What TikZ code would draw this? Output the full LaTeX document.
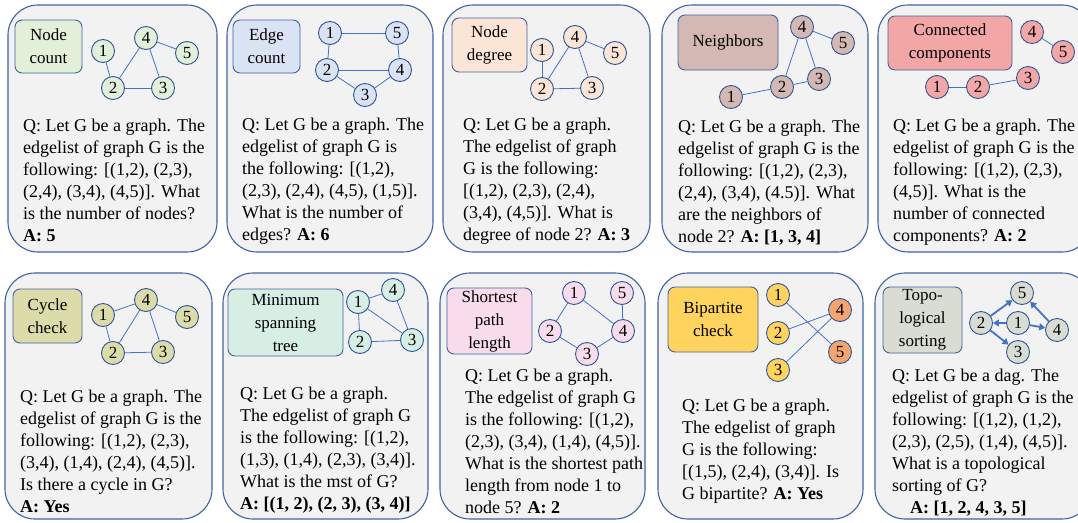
\documentclass[tikz,border=0pt]{standalone}
\usepackage{fontspec}
\setmainfont{Liberation Serif}
\definecolor{panelgray}{HTML}{F2F2F2}
\definecolor{panelblue}{HTML}{41639E}
\definecolor{nodeblue}{HTML}{2F5597}
\definecolor{edgeblue}{HTML}{4472C4}
\definecolor{ncgreen}{HTML}{E2F0D9}
\definecolor{ecblue}{HTML}{DAE3F3}
\definecolor{ndpeach}{HTML}{FBE5D6}
\definecolor{nbrose}{HTML}{D4B8B4}
\definecolor{ccpink}{HTML}{F2A6A6}
\definecolor{cyolive}{HTML}{DCDCAA}
\definecolor{mstmint}{HTML}{D6EEE4}
\definecolor{sppink}{HTML}{F9DCEB}
\definecolor{bpgold}{HTML}{FFD45E}
\definecolor{bporange}{HTML}{F4A46E}
\definecolor{topogray}{HTML}{D9DCD3}
\usetikzlibrary{arrows.meta}
\tikzset{
	panel/.style={
			draw=panelblue,
			fill=panelgray,
			line width=1.1pt,
			rounded corners=30pt
		},
	tagbox/.style={
			draw=panelblue,
			line width=0.9pt,
			rounded corners=7pt,
			align=center,
			inner sep=0pt,
			font=\fontsize{17}{23}\selectfont
		},
	vtx/.style={
			circle,
			draw=nodeblue,
			line width=0.9pt,
			minimum size=23pt,
			inner sep=0pt,
			font=\fontsize{17}{17}\selectfont
		},
	qtext/.style={
			anchor=base west,
			align=left,
			inner sep=0pt,
			font=\fontsize{18}{22}\selectfont
		},
	link/.style={
			draw=edgeblue,
			line width=0.8pt
		},
	dlink/.style={
			draw=edgeblue,
			line width=1.8pt,
			-{Triangle[length=6pt,width=7pt]}
		}
}

\begin{document}
\begin{tikzpicture}[x=1pt, y=-1pt]
\useasboundingbox (0,0) rectangle (1078,522);
\clip (0,0) rectangle (1078,522);

\draw[panel] (8,5) rectangle (217,252);
\draw[panel] (227,5) rectangle (433,252);
\draw[panel] (443,5) rectangle (650,252);
\draw[panel] (662,5) rectangle (868,252);
\draw[panel] (878,5) rectangle (1092,252);
\draw[panel] (5,273) rectangle (212,519);
\draw[panel] (223,273) rectangle (428,519);
\draw[panel] (440,273) rectangle (645,519);
\draw[panel] (658,273) rectangle (863,519);
\draw[panel] (875,273) rectangle (1092,519);

% node count
\node[tagbox, fill=ncgreen, minimum width=67pt, minimum height=53pt] (p1tag) at (48.5,46.5) {Node\\count};
\node[vtx, fill=ncgreen] (p1n1) at (103,51) {1};
\node[vtx, fill=ncgreen] (p1n2) at (113,88) {2};
\node[vtx, fill=ncgreen] (p1n3) at (163,88) {3};
\node[vtx, fill=ncgreen] (p1n4) at (146,38) {4};
\node[vtx, fill=ncgreen] (p1n5) at (187,53) {5};
\draw[link] (p1n1) -- (p1n2);
\draw[link] (p1n2) -- (p1n3);
\draw[link] (p1n2) -- (p1n4);
\draw[link] (p1n3) -- (p1n4);
\draw[link] (p1n4) -- (p1n5);
\node[qtext] (p1q) at (23,241) {Q: Let G be a graph. The\\edgelist of graph G is the\\following: [(1,2), (2,3),\\(2,4), (3,4), (4,5)]. What\\is the number of nodes?\\\textbf{A: 5}};

% edge count
\node[tagbox, fill=ecblue, minimum width=67pt, minimum height=53pt] (p2tag) at (266.5,46.5) {Edge\\count};
\node[vtx, fill=ecblue] (p2n1) at (330,33) {1};
\node[vtx, fill=ecblue] (p2n2) at (327,70) {2};
\node[vtx, fill=ecblue] (p2n3) at (365,95) {3};
\node[vtx, fill=ecblue] (p2n4) at (400,70) {4};
\node[vtx, fill=ecblue] (p2n5) at (397,33) {5};
\draw[link] (p2n1) -- (p2n5);
\draw[link] (p2n1) -- (p2n2);
\draw[link] (p2n2) -- (p2n4);
\draw[link] (p2n4) -- (p2n5);
\draw[link] (p2n2) -- (p2n3);
\draw[link] (p2n3) -- (p2n4);
\node[qtext] (p2q) at (242,240) {Q: Let G be a graph. The\\edgelist of graph G is\\the following: [(1,2),\\(2,3), (2,4), (4,5), (1,5)].\\What is the number of\\edges? \textbf{A: 6}};

% node degree
\node[tagbox, fill=ndpeach, minimum width=75pt, minimum height=54pt] (p3tag) at (489.5,45) {Node\\degree};
\node[vtx, fill=ndpeach] (p3n1) at (542,50) {1};
\node[vtx, fill=ndpeach] (p3n2) at (542,89) {2};
\node[vtx, fill=ndpeach] (p3n3) at (592,88) {3};
\node[vtx, fill=ndpeach] (p3n4) at (575,37) {4};
\node[vtx, fill=ndpeach] (p3n5) at (615,53) {5};
\draw[link] (p3n1) -- (p3n2);
\draw[link] (p3n2) -- (p3n4);
\draw[link] (p3n2) -- (p3n3);
\draw[link] (p3n4) -- (p3n3);
\draw[link] (p3n4) -- (p3n5);
\node[qtext] (p3q) at (463,240) {Q: Let G be a graph.\\The edgelist of graph\\G is the following:\\{}[(1,2), (2,3), (2,4),\\(3,4), (4,5)]. What is\\degree of node 2? \textbf{A: 3}};

% neighbors
\node[tagbox, fill=nbrose, minimum width=100pt, minimum height=55pt] (p4tag) at (728,42.5) {Neighbors};
\node[vtx, fill=nbrose] (p4n1) at (731,97) {1};
\node[vtx, fill=nbrose] (p4n2) at (782,87) {2};
\node[vtx, fill=nbrose] (p4n3) at (819,79) {3};
\node[vtx, fill=nbrose] (p4n4) at (802,27) {4};
\node[vtx, fill=nbrose] (p4n5) at (843,43) {5};
\draw[link] (p4n1) -- (p4n2);
\draw[link] (p4n2) -- (p4n4);
\draw[link] (p4n2) -- (p4n3);
\draw[link] (p4n4) -- (p4n3);
\draw[link] (p4n4) -- (p4n5);
\node[qtext] (p4q) at (678,242) {Q: Let G be a graph. The\\edgelist of graph G is the\\following: [(1,2), (2,3),\\(2,4), (3,4), (4.5)]. What\\are the neighbors of\\node 2? \textbf{A: [1, 3, 4]}};

% connected components
\node[tagbox, fill=ccpink, minimum width=124pt, minimum height=54pt] (p5tag) at (950,43) {Connected\\components};
\node[vtx, fill=ccpink] (p5n1) at (937,87) {1};
\node[vtx, fill=ccpink] (p5n2) at (978,87) {2};
\node[vtx, fill=ccpink] (p5n3) at (1028,78) {3};
\node[vtx, fill=ccpink] (p5n4) at (1032,32) {4};
\node[vtx, fill=ccpink] (p5n5) at (1063,52) {5};
\draw[link] (p5n1) -- (p5n2);
\draw[link] (p5n2) -- (p5n3);
\draw[link] (p5n4) -- (p5n5);
\node[qtext] (p5q) at (893,241) {Q: Let G be a graph. The\\edgelist of graph G is the\\following: [(1,2), (2,3),\\(4,5)]. What is the\\number of connected\\components? \textbf{A: 2}};

% cycle check
\node[tagbox, fill=cyolive, minimum width=69pt, minimum height=54pt] (p6tag) at (47.5,316) {Cycle\\check};
\node[vtx, fill=cyolive] (p6n1) at (103,315) {1};
\node[vtx, fill=cyolive] (p6n2) at (113,353) {2};
\node[vtx, fill=cyolive] (p6n3) at (163,352) {3};
\node[vtx, fill=cyolive] (p6n4) at (146,300) {4};
\node[vtx, fill=cyolive] (p6n5) at (187,317) {5};
\draw[link] (p6n1) -- (p6n2);
\draw[link] (p6n1) -- (p6n4);
\draw[link] (p6n2) -- (p6n4);
\draw[link] (p6n2) -- (p6n3);
\draw[link] (p6n3) -- (p6n4);
\draw[link] (p6n4) -- (p6n5);
\node[qtext] (p6q) at (20,512) {Q: Let G be a graph. The\\edgelist of graph G is the\\following: [(1,2), (2,3),\\(3,4), (1,4), (2,4), (4,5)].\\Is there a cycle in G?\\\textbf{A: Yes}};

% minimum spanning tree
\node[tagbox, fill=mstmint, minimum width=115pt, minimum height=67pt] (p7tag) at (285.5,322.5) {Minimum\\spanning\\tree};
\node[vtx, fill=mstmint] (p7n1) at (358,302) {1};
\node[vtx, fill=mstmint] (p7n2) at (360,342) {2};
\node[vtx, fill=mstmint] (p7n3) at (412,340) {3};
\node[vtx, fill=mstmint] (p7n4) at (393,290) {4};
\draw[link] (p7n1) -- (p7n4);
\draw[link] (p7n1) -- (p7n2);
\draw[link] (p7n1) -- (p7n3);
\draw[link] (p7n4) -- (p7n3);
\draw[link] (p7n2) -- (p7n3);
\node[qtext] (p7q) at (240,509) {Q: Let G be a graph.\\The edgelist of graph G\\is the following: [(1,2),\\(1,3), (1,4), (2,3), (3,4)].\\What is the mst of G?\\\textbf{A: [(1, 2), (2, 3), (3, 4)]}};

% shortest path
\node[tagbox, fill=sppink, minimum width=85pt, minimum height=66pt] (p8tag) at (489.5,321) {Shortest\\path\\length};
\node[vtx, fill=sppink] (p8n1) at (574,293) {1};
\node[vtx, fill=sppink] (p8n2) at (550,331) {2};
\node[vtx, fill=sppink] (p8n3) at (587,354) {3};
\node[vtx, fill=sppink] (p8n4) at (623,331) {4};
\node[vtx, fill=sppink] (p8n5) at (622,293) {5};
\draw[link] (p8n1) -- (p8n2);
\draw[link] (p8n2) -- (p8n3);
\draw[link] (p8n3) -- (p8n4);
\draw[link] (p8n1) -- (p8n4);
\draw[link] (p8n4) -- (p8n5);
\node[qtext] (p8q) at (465,513) {Q: Let G be a graph.\\The edgelist of graph G\\is the following: [(1,2),\\(2,3), (3,4), (1,4), (4,5)].\\What is the shortest path\\length from node 1 to\\node 5? \textbf{A: 2}};

% bipartite check
\node[tagbox, fill=bpgold, minimum width=90pt, minimum height=65pt] (p9tag) at (713,319.5) {Bipartite\\check};
\node[vtx, fill=bpgold] (p9n1) at (778,295) {1};
\node[vtx, fill=bpgold] (p9n2) at (778,333) {2};
\node[vtx, fill=bpgold] (p9n3) at (778,370) {3};
\node[vtx, fill=bporange] (p9n4) at (840,310) {4};
\node[vtx, fill=bporange] (p9n5) at (840,352) {5};
\draw[link] (p9n1) -- (p9n5);
\draw[link] (p9n2) -- (p9n4);
\draw[link] (p9n3) -- (p9n4);
\node[qtext] (p9q) at (682,499) {Q: Let G be a graph.\\The edgelist of graph\\G is the following:\\{}[(1,5), (2,4), (3,4)]. Is\\G bipartite? \textbf{A: Yes}};

% topological sorting
\node[tagbox, fill=topogray, minimum width=79pt, minimum height=66pt] (p10tag) at (922.5,320) {Topo-\\logical\\sorting};
\node[vtx, fill=topogray] (p10n1) at (1018,323) {1};
\node[vtx, fill=topogray] (p10n2) at (981,323) {2};
\node[vtx, fill=topogray] (p10n3) at (1018,352) {3};
\node[vtx, fill=topogray] (p10n4) at (1057,330) {4};
\node[vtx, fill=topogray] (p10n5) at (1022,293) {5};
\draw[dlink] (p10n1) -- (p10n2);
\draw[dlink] (p10n1) -- (p10n4);
\draw[dlink] (p10n2) -- (p10n5);
\draw[dlink] (p10n2) -- (p10n3);
\draw[dlink] (p10n4) -- (p10n5);
\node[qtext] (p10q) at (892,513) {Q: Let G be a dag. The\\edgelist of graph G is the\\following: [(1,2), (1,2),\\(2,3), (2,5), (1,4), (4,5)].\\What is a topological\\sorting of G?\\\hspace*{18pt}\textbf{A: [1, 2, 4, 3, 5]}};
\end{tikzpicture}
\end{document}
